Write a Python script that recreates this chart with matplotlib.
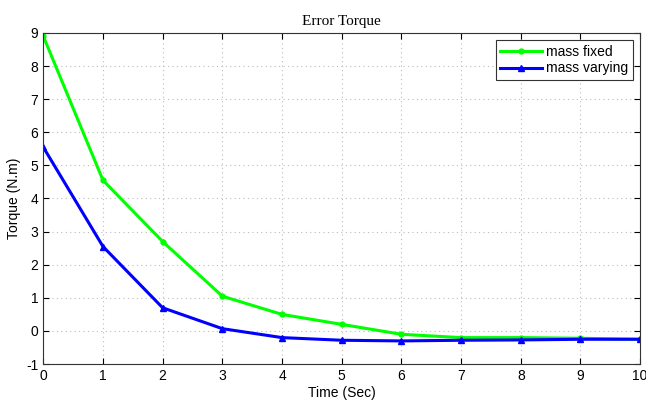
import matplotlib
matplotlib.use("Agg")
import matplotlib.pyplot as plt

plt.rcParams['font.family'] = ['Liberation Sans', 'DejaVu Sans']
plt.rcParams['axes.unicode_minus'] = False

time = [0, 1, 2, 3, 4, 5, 6, 7, 8, 9, 10]
mass_fixed = [8.9, 4.55, 2.7, 1.05, 0.5, 0.2, -0.1, -0.2, -0.2, -0.22, -0.25]
mass_varying = [5.55, 2.55, 0.7, 0.07, -0.2, -0.28, -0.3, -0.28, -0.27, -0.25, -0.25]

fig = plt.figure(figsize=(6.46, 4.01), dpi=100)
ax = fig.add_axes([0.067, 0.092, 0.924, 0.826])

ax.plot(time, mass_fixed, color='#00ff00', lw=2.2, marker='o', ms=3.5, label='mass fixed')
ax.plot(time, mass_varying, color='#0000ff', lw=2.2, marker='^', ms=4.5, label='mass varying')

ax.set_xlim(0, 10)
ax.set_ylim(-1, 9)
ax.set_xticks(range(0, 11))
ax.set_yticks(range(-1, 10))
ax.tick_params(direction='in', top=True, right=True, labelsize=10, length=4)
ax.grid(True, linestyle=(0, (1, 3)), color='#bbbbbb', lw=0.8)
for s in ax.spines.values():
    s.set_color('#333333')

ax.set_title('Error Torque', fontfamily='Liberation Serif', fontsize=11)
ax.set_xlabel('Time (Sec)', fontsize=10, labelpad=2)
ax.set_ylabel('Torque (N.m)', fontsize=10, labelpad=4)

leg = ax.legend(loc='upper right', fontsize=10, fancybox=False, edgecolor='#333333',
                handlelength=3, borderpad=0.35, labelspacing=0.2, handletextpad=0.3,
                borderaxespad=0.5, framealpha=1)
leg.get_frame().set_linewidth(0.8)

fig.savefig('out.png', dpi=100)
